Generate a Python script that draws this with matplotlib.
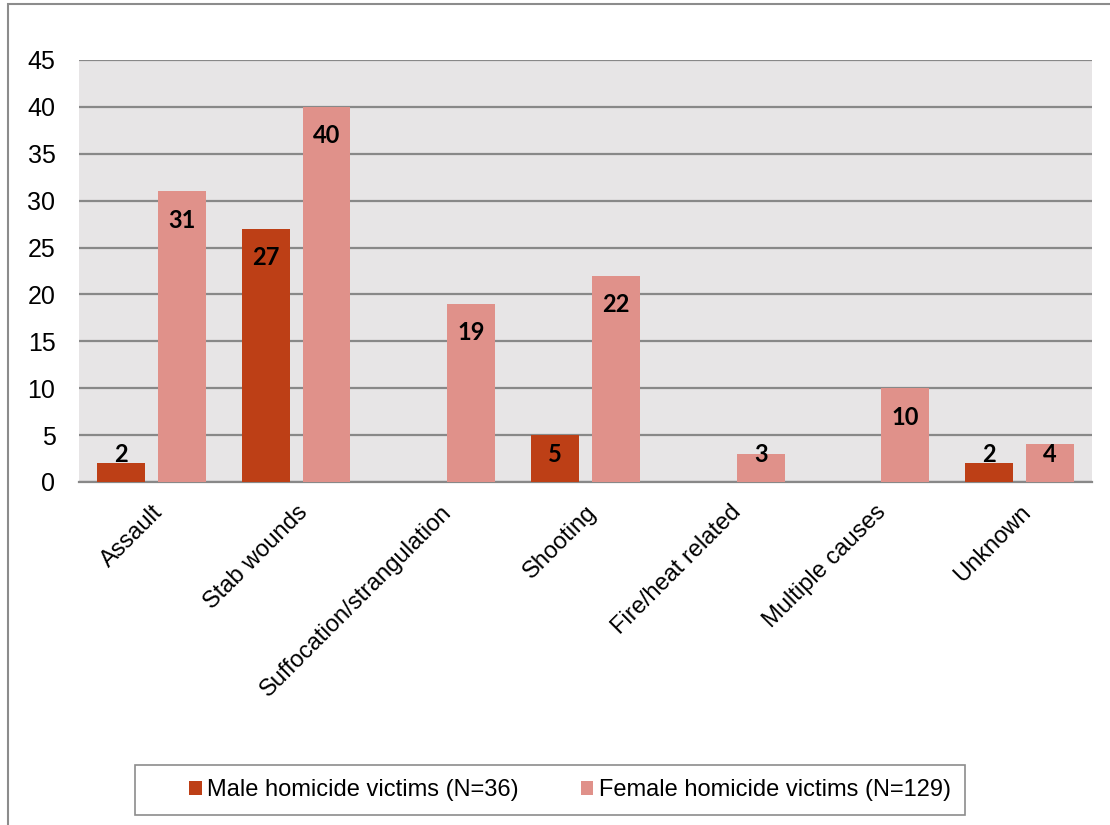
import numpy as np
import matplotlib
matplotlib.use('Agg')
import matplotlib.pyplot as plt
from matplotlib.patches import Rectangle

categories = ['Assault', 'Stab wounds', 'Suffocation/strangulation', 'Shooting',
              'Fire/heat related', 'Multiple causes', 'Unknown']
male = [2, 27, 0, 5, 0, 0, 2]
female = [31, 40, 19, 22, 3, 10, 4]
male_label = 'Male homicide victims (N=36)'
female_label = 'Female homicide victims (N=129)'

male_col = '#BD3F16'
female_col = '#E0918A'

plt.rcParams['font.family'] = ['Liberation Sans', 'DejaVu Sans']

fig = plt.figure(figsize=(11.1, 8.25), dpi=100)
ax = fig.add_axes([0.0712, 0.4158, 0.9838 - 0.0712, 0.9273 - 0.4158])

# outer chart frame
fig.patches.append(Rectangle((8 / 1110, -0.05), 1.2, 1 - 4 / 825 + 0.05,
                             transform=fig.transFigure, fill=False,
                             edgecolor='#8c8c8c', lw=1.5))

x = np.arange(len(categories))
w = 0.33
off = 0.21
ax.bar(x - off, male, w, color=male_col, label=male_label, zorder=3)
ax.bar(x + off, female, w, color=female_col, label=female_label, zorder=3)

ax.set_facecolor('#E7E5E6')
ax.set_xlim(-0.5, len(categories) - 0.5)
ax.set_ylim(0, 45)
ax.set_yticks(range(0, 46, 5))
ax.yaxis.grid(True, color='#888888', lw=1.6, zorder=1)
ax.set_axisbelow(True)
for s in ['top', 'right', 'left']:
    ax.spines[s].set_visible(False)
ax.spines['bottom'].set_color('#888888')
ax.spines['bottom'].set_linewidth(1.6)
ax.tick_params(axis='both', length=0)
ax.tick_params(axis='y', pad=17, labelsize=18)

ax.set_xticks(x)
ax.set_xticklabels(categories, rotation=45, ha='right', rotation_mode='anchor',
                   fontsize=17)
ax.tick_params(axis='x', pad=14)

# data labels
for xs, vals in [(x - off, male), (x + off, female)]:
    for xi, v in zip(xs, vals):
        if v == 0:
            continue
        yl = max(v - 3.1, 2.9)
        ax.text(xi, yl, str(v), ha='center', va='center', fontsize=17,
                fontweight='bold', family=['Lato', 'DejaVu Sans'], color='black',
                zorder=4)

# legend box drawn separately (wider than its contents, as in the original)
fig.patches.append(Rectangle((135 / 1110, 1 - 815 / 825), 830 / 1110, 50 / 825,
                             transform=fig.transFigure, fill=False,
                             edgecolor='#8c8c8c', lw=1.2))
fig.legend(loc='center', bbox_to_anchor=(570 / 1110, 1 - 790 / 825),
           ncol=2, frameon=False, fontsize=17,
           handlelength=0.55, handleheight=0.55, handletextpad=0.25,
           columnspacing=2.6)

fig.savefig('out.png', dpi=100)
